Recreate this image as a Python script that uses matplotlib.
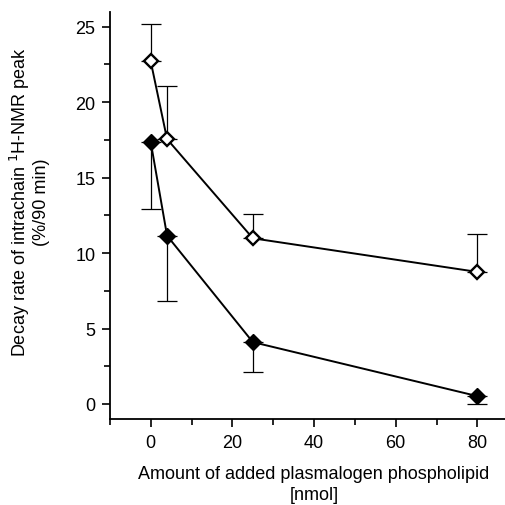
import matplotlib
matplotlib.use("Agg")
import matplotlib.pyplot as plt
from matplotlib.ticker import MultipleLocator

plt.rcParams['font.family'] = ['Liberation Sans', 'DejaVu Sans']

# amount of plasmalogen (nmol)
amount = [0, 4, 25, 80]

# open diamonds, upper error only
open_y = [22.7, 17.55, 10.98, 8.75]
open_err = [2.5, 3.55, 1.6, 2.5]

# filled diamonds, lower error only
filled_y = [17.35, 11.15, 4.1, 0.52]
filled_err = [4.4, 4.3, 1.95, 0.5]

fig = plt.figure(figsize=(5.06, 5.06), dpi=100)
ax = fig.add_axes([0.2172, 0.1698, 0.7828, 0.8053])

ax.errorbar(amount, open_y, yerr=[[0] * 4, open_err], fmt='none', ecolor='black',
            elinewidth=0.9, capsize=7.5, capthick=0.9)
ax.errorbar(amount, filled_y, yerr=[filled_err, [0] * 4], fmt='none', ecolor='black',
            elinewidth=0.9, capsize=7.5, capthick=0.9)
ax.plot(amount, open_y, color='black', lw=1.4, marker='D', ms=7.5,
        mfc='white', mec='black', mew=1.7, zorder=3)
ax.plot(amount, filled_y, color='black', lw=1.4, marker='D', ms=8,
        mfc='black', mec='black', zorder=3)

ax.set_xlim(-10, 87)
ax.set_ylim(-1, 26)
ax.xaxis.set_major_locator(MultipleLocator(20))
ax.xaxis.set_minor_locator(MultipleLocator(10))
ax.yaxis.set_major_locator(MultipleLocator(5))
ax.yaxis.set_minor_locator(MultipleLocator(2.5))
ax.tick_params(which='major', length=6, width=1.2, labelsize=13, pad=4.5, direction='out')
ax.tick_params(which='minor', length=4.5, width=1.2, direction='out')

for s in ['top', 'right']:
    ax.spines[s].set_visible(False)
for s in ['left', 'bottom']:
    ax.spines[s].set_linewidth(1.3)

ax.set_xlabel('Amount of added plasmalogen phospholipid\n[nmol]', fontsize=13,
              linespacing=1.3)
ax.set_ylabel('Decay rate of intrachain $^{1}$H-NMR peak\n(%/90 min)', fontsize=13,
              linespacing=1.05)
ax.xaxis.set_label_coords(0.515, -0.113)
ax.yaxis.set_label_coords(-0.152, 0.535)

fig.savefig('out.png', dpi=100)
